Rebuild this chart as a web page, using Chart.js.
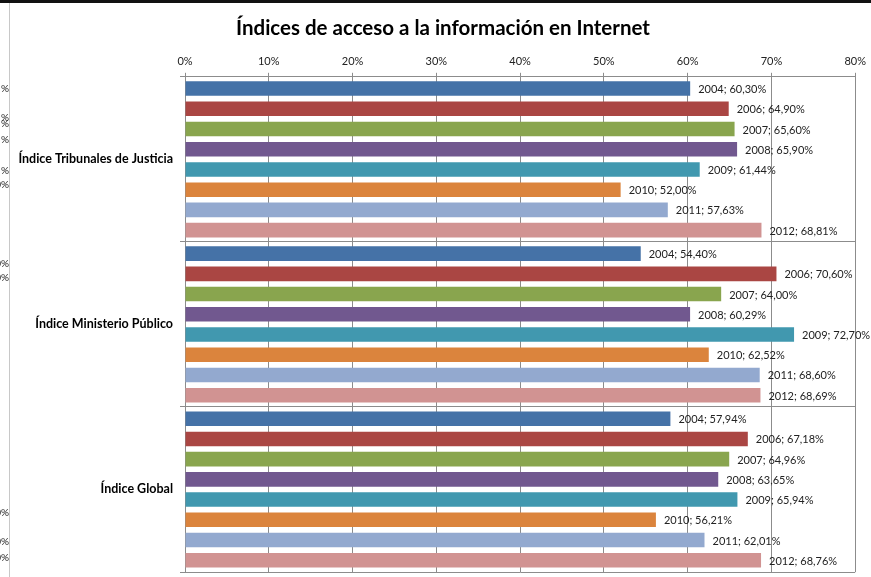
<!DOCTYPE html>
<html>
<head>
<meta charset="utf-8">
<script src="https://cdn.jsdelivr.net/npm/chart.js@4/dist/chart.umd.min.js"></script>
<style>
  html, body { margin: 0; padding: 0; background: #fff; }
  #wrap { position: relative; width: 871px; height: 577px; overflow: hidden; background: #fff; }
  #c { position: absolute; left: 0; top: 0; }
  #topline { position: absolute; left: 0; top: 0; width: 871px; height: 3px; background: #111; }
  #leftline { position: absolute; left: 9px; top: 3px; width: 1px; height: 574px; background: #c8c8c8; }
  .frag { position: absolute; left: 0; width: 9px; overflow: hidden; white-space: nowrap;
          font-family: Lato, "Open Sans", sans-serif; font-size: 10px; color: #222; line-height: 12px; }
</style>
</head>
<body>
<div id="wrap">
  <canvas id="c" width="871" height="577"></canvas>
  <div id="topline"></div>
  <div id="leftline"></div>
</div>
<script>
const categories = ["Índice Tribunales de Justicia", "Índice Ministerio Público", "Índice Global"];
const years = ["2004", "2006", "2007", "2008", "2009", "2010", "2011", "2012"];
const v2004 = [60.30, 54.40, 57.94];
const v2006 = [64.90, 70.60, 67.18];
const v2007 = [65.60, 64.00, 64.96];
const v2008 = [65.90, 60.29, 63.65];
const v2009 = [61.44, 72.70, 65.94];
const v2010 = [52.00, 62.52, 56.21];
const v2011 = [57.63, 68.60, 62.01];
const v2012 = [68.81, 68.69, 68.76];
const xTicks = ["0%", "10%", "20%", "30%", "40%", "50%", "60%", "70%", "80%"];
const leftFragments = [["%", 88], ["%", 117], ["%", 123], ["%", 139], ["%", 170], ["0%", 184], ["0%", 263], ["0%", 277], ["0%", 512], ["0%", 541], ["0%", 557]];

const seriesValues = [v2004, v2006, v2007, v2008, v2009, v2010, v2011, v2012];
const colors = ["#4572A7", "#AA4643", "#89A54E", "#71588F", "#4198AF", "#DB843D", "#93A9CF", "#D19392"];

const wrap = document.getElementById('wrap');
leftFragments.forEach(([t, y]) => {
  const d = document.createElement('div');
  d.className = 'frag';
  d.style.top = (y - 6) + 'px';
  d.innerHTML = '<span style="float:right">' + t + '</span>';
  wrap.appendChild(d);
});

const fmt = v => v.toFixed(2).replace('.', ',') + '%';

const labelPlugin = {
  id: 'barLabels',
  afterDatasetsDraw(chart) {
    const ctx = chart.ctx;
    ctx.save();
    ctx.font = '11px Lato, "Open Sans", sans-serif';
    ctx.fillStyle = '#222';
    ctx.textBaseline = 'middle';
    ctx.textAlign = 'left';
    chart.data.datasets.forEach((ds, i) => {
      const meta = chart.getDatasetMeta(i);
      meta.data.forEach((bar, j) => {
        ctx.fillText(ds.label + '; ' + fmt(ds.data[j]), bar.x + 8, bar.y + 1);
      });
    });
    ctx.restore();
  }
};

new Chart(document.getElementById('c'), {
  type: 'bar',
  data: {
    labels: categories,
    datasets: years.map((y, i) => ({
      label: y,
      data: seriesValues[i],
      backgroundColor: colors[i],
      borderWidth: 0,
      categoryPercentage: 0.98,
      barPercentage: 0.72
    }))
  },
  options: {
    indexAxis: 'y',
    responsive: false,
    animation: false,
    layout: { padding: { left: 16, right: 1, top: 0, bottom: 5 } },
    plugins: {
      legend: { display: false },
      tooltip: { enabled: false },
      title: {
        display: true,
        text: 'Índices de acceso a la información en Internet',
        color: '#000',
        font: { family: 'Lato, "Open Sans", sans-serif', size: 20.5, weight: 'bold', lineHeight: 1.2 },
        padding: { top: 16, bottom: 5.4 }
      }
    },
    scales: {
      x: {
        position: 'top',
        min: 0,
        max: 80,
        ticks: {
          stepSize: 10,
          color: '#222',
          font: { family: 'Lato, "Open Sans", sans-serif', size: 11 },
          padding: 5,
          callback: (v, i) => xTicks[i]
        },
        grid: { color: '#8c8c8c', lineWidth: 1, tickLength: 4, drawTicks: true },
        border: { color: '#8c8c8c' },
        afterFit(scale) { scale.height = 77 - 46.2; }
      },
      y: {
        ticks: {
          color: '#000',
          font: { family: 'Lato, "Open Sans", sans-serif', size: 12.5, weight: 'bold' },
          padding: 7
        },
        grid: { color: '#8c8c8c', lineWidth: 1, tickLength: 5, offset: true },
        border: { color: '#8c8c8c' },
        afterFit(scale) { scale.width = 169; scale.paddingTop = 0; scale.paddingBottom = 0; }
      }
    }
  },
  plugins: [labelPlugin]
});
</script>
</body>
</html>
